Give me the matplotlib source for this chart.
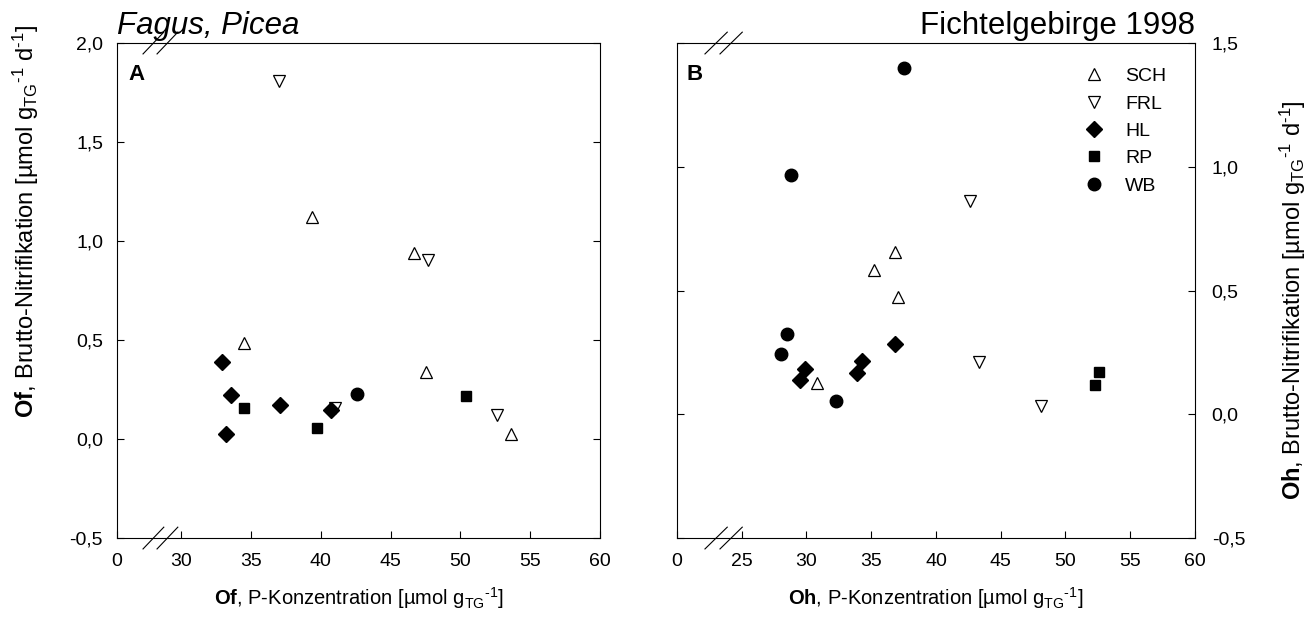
import matplotlib
matplotlib.use("Agg")
import matplotlib.pyplot as plt

plt.rcParams['font.family'] = ['Liberation Sans', 'DejaVu Sans']
plt.rcParams['mathtext.fontset'] = 'custom'
plt.rcParams['mathtext.rm'] = 'Liberation Sans'
plt.rcParams['mathtext.it'] = 'Liberation Sans:italic'
plt.rcParams['mathtext.bf'] = 'Liberation Sans:bold'

# Of layer (panel A)
of_sch_x = [34.5, 39.4, 46.7, 47.5, 53.6]
of_sch_y = [0.485, 1.12, 0.94, 0.34, 0.025]
of_frl_x = [37.0, 47.7, 41.0, 52.6]
of_frl_y = [1.81, 0.905, 0.155, 0.12]
of_hl_x = [32.9, 33.6, 33.2, 37.1, 40.7]
of_hl_y = [0.39, 0.22, 0.025, 0.17, 0.145]
of_rp_x = [34.5, 39.7, 50.4]
of_rp_y = [0.155, 0.055, 0.215]
of_wb_x = [42.6]
of_wb_y = [0.225]

# Oh layer (panel B)
oh_sch_x = [30.8, 35.2, 36.8, 37.1]
oh_sch_y = [0.125, 0.585, 0.655, 0.475]
oh_frl_x = [42.6, 43.3, 48.1]
oh_frl_y = [0.86, 0.21, 0.035]
oh_hl_x = [29.5, 29.9, 33.9, 34.3, 36.8]
oh_hl_y = [0.14, 0.185, 0.165, 0.215, 0.285]
oh_rp_x = [52.3, 52.6]
oh_rp_y = [0.12, 0.17]
oh_wb_x = [28.0, 28.5, 28.8, 32.3, 37.5]
oh_wb_y = [0.245, 0.325, 0.965, 0.055, 1.40]

of_xticks = [30, 35, 40, 45, 50, 55, 60]
oh_xticks = [25, 30, 35, 40, 45, 50, 55, 60]
of_yticks = [-0.5, 0.0, 0.5, 1.0, 1.5, 2.0]
oh_yticks = [-0.5, 0.0, 0.5, 1.0, 1.5]

styles = {
    'SCH': dict(marker='^', mfc='white', mec='black', mew=0.9, ms=8),
    'FRL': dict(marker='v', mfc='white', mec='black', mew=0.9, ms=8),
    'HL': dict(marker='D', mfc='black', mec='black', ms=8),
    'RP': dict(marker='s', mfc='black', mec='black', ms=7.5),
    'WB': dict(marker='o', mfc='black', mec='black', ms=9),
}

unit_x = r"P-Konzentration [µmol g$_{\mathrm{TG}}{}^{\text{-1}}$]"
unit_y = r"Brutto-Nitrifikation [µmol g$_{\mathrm{TG}}{}^{\text{-1}}$ d$^{\text{-1}}$]"


def comma(v):
    return f"{v:.1f}".replace('.', ',')


def breaks(ax):
    for y in (0.0, 1.0):
        for x0 in (0.054, 0.083):
            ax.plot([x0, x0 + 0.043], [y - 0.022, y + 0.022], color='black', lw=0.8,
                    transform=ax.transAxes, clip_on=False)


fig = plt.figure(figsize=(13.11, 6.33), dpi=100)
ax1 = fig.add_axes([0.0892, 0.150, 0.3685, 0.782])
ax2 = fig.add_axes([0.5164, 0.150, 0.3951, 0.782])

series_a = [('SCH', of_sch_x, of_sch_y), ('FRL', of_frl_x, of_frl_y), ('HL', of_hl_x, of_hl_y),
            ('RP', of_rp_x, of_rp_y), ('WB', of_wb_x, of_wb_y)]
series_b = [('SCH', oh_sch_x, oh_sch_y), ('FRL', oh_frl_x, oh_frl_y), ('HL', oh_hl_x, oh_hl_y),
            ('RP', oh_rp_x, oh_rp_y), ('WB', oh_wb_x, oh_wb_y)]

for name, xs, ys in series_a:
    ax1.plot(xs, ys, ls='none', label=name, **styles[name])
for name, xs, ys in series_b:
    ax2.plot(xs, ys, ls='none', label=name, **styles[name])

# panel A
ax1.set_xlim(25.4, 60)
ax1.set_ylim(-0.5, 2.0)
ax1.set_xticks([25.4] + of_xticks)
ax1.set_xticklabels(['0'] + [str(t) for t in of_xticks])
ax1.set_yticks(of_yticks)
ax1.set_yticklabels([comma(v) for v in of_yticks])
ax1.tick_params(direction='in', length=5, width=0.8, labelsize=14, right=True)
ax1.tick_params(axis='x', pad=11)
ax1.tick_params(axis='y', pad=10)
ax1.set_xlabel(r"$\mathbf{Of}$, " + unit_x, fontsize=14.5)
ax1.xaxis.set_label_coords(0.5, -0.095)
ax1.set_ylabel(r"$\mathbf{Of}$, " + unit_y, fontsize=17)
ax1.yaxis.set_label_coords(-0.157, 0.64)
ax1.text(0.0, 1.005, 'Fagus, Picea', transform=ax1.transAxes, fontsize=22.5, style='italic',
         ha='left', va='bottom')
ax1.text(0.023, 0.958, 'A', transform=ax1.transAxes, fontsize=16, fontweight='bold',
         ha='left', va='top')
breaks(ax1)

# panel B
ax2.set_xlim(20, 60)
ax2.set_ylim(-0.5, 1.5)
ax2.set_xticks([20] + oh_xticks)
ax2.set_xticklabels(['0'] + [str(t) for t in oh_xticks])
ax2.set_yticks(oh_yticks)
ax2.set_yticklabels([comma(v) for v in oh_yticks])
ax2.tick_params(direction='in', length=5, width=0.8, labelsize=14)
ax2.tick_params(axis='x', pad=11)
ax2.tick_params(axis='y', left=True, right=True, labelleft=False, labelright=True, pad=12)
ax2.set_xlabel(r"$\mathbf{Oh}$, " + unit_x, fontsize=14.5)
ax2.xaxis.set_label_coords(0.5, -0.095)
ax2.yaxis.set_label_position('right')
ax2.set_ylabel(r"$\mathbf{Oh}$, " + unit_y, fontsize=17, rotation=90)
ax2.yaxis.set_label_coords(1.16, 0.48)
ax2.text(1.0, 1.005, 'Fichtelgebirge 1998', transform=ax2.transAxes, fontsize=22.5,
         ha='right', va='bottom')
ax2.text(0.019, 0.958, 'B', transform=ax2.transAxes, fontsize=16, fontweight='bold',
         ha='left', va='top')
breaks(ax2)

ax2.legend(loc='upper right', bbox_to_anchor=(0.967, 0.974), frameon=False, fontsize=14,
           handletextpad=1.0, labelspacing=0.5, borderaxespad=0.2, handlelength=1.2)

for ax in (ax1, ax2):
    for s in ax.spines.values():
        s.set_linewidth(0.8)

fig.savefig('out.png', dpi=100)
